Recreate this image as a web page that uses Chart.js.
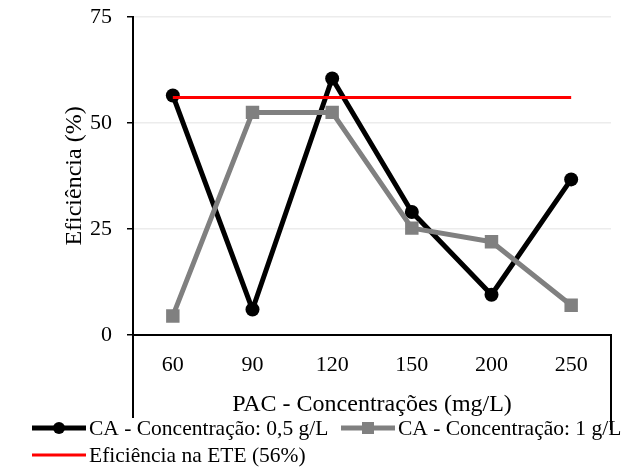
<!DOCTYPE html>
<html>
<head>
<meta charset="utf-8">
<script src="https://cdn.jsdelivr.net/npm/chart.js@4.4.1/dist/chart.umd.min.js"></script>
<style>
  html, body { margin: 0; padding: 0; background: #fff; }
  canvas { display: block; }
</style>
</head>
<body>
<canvas id="chart" width="640" height="467"></canvas>
<script>
const categories = ["60", "90", "120", "150", "200", "250"];
const ca05 = [56.5, 6, 60.5, 29, 9.5, 36.7];
const ca1 = [4.5, 52.5, 52.5, 25.2, 22, 7];
const eteEff = [56, 56, 56, 56, 56, 56];
const yTicks = [0, 25, 50, 75];

const serif = '"Liberation Serif", "Times New Roman", serif';

// Excel-ish extras: axis stubs below plot and the line legend
const extras = {
  id: "extras",
  afterDraw(chart) {
    const ctx = chart.ctx;
    const a = chart.chartArea;
    ctx.save();
    ctx.strokeStyle = "#000";
    ctx.lineWidth = 2;
    ctx.beginPath();
    ctx.moveTo(a.left, a.bottom);
    ctx.lineTo(a.left, 418);
    ctx.moveTo(a.right, a.bottom);
    ctx.lineTo(a.right, 430);
    ctx.stroke();

    const ds = chart.data.datasets;
    const spots = [[32, 428], [341, 428], [32, 455]];
    ds.forEach((d, i) => {
      const [x, y] = spots[i];
      ctx.strokeStyle = d.borderColor;
      ctx.lineWidth = d.legendWidth;
      ctx.beginPath();
      ctx.moveTo(x, y);
      ctx.lineTo(x + 54, y);
      ctx.stroke();
      ctx.fillStyle = d.borderColor;
      if (d.pointStyle === "circle") {
        ctx.beginPath();
        ctx.arc(x + 27, y, 6, 0, Math.PI * 2);
        ctx.fill();
      } else if (d.pointStyle === "rect") {
        ctx.fillRect(x + 27 - 6, y - 6, 12, 12);
      }
      ctx.fillStyle = "#000";
      ctx.font = "21.5px " + serif;
      ctx.textBaseline = "middle";
      ctx.textAlign = "left";
      ctx.fillText(d.label, x + 57, y + 1);
    });
    ctx.restore();
  }
};

new Chart(document.getElementById("chart"), {
  type: "line",
  data: {
    labels: categories,
    datasets: [
      {
        label: "CA - Concentração: 0,5 g/L",
        data: ca05,
        borderColor: "#000000",
        backgroundColor: "#000000",
        borderWidth: 5,
        borderJoinStyle: "round",
        pointStyle: "circle",
        pointRadius: 7,
        pointBorderWidth: 0,
        legendWidth: 5,
        order: 2
      },
      {
        label: "CA - Concentração: 1 g/L",
        data: ca1,
        borderColor: "#808080",
        backgroundColor: "#808080",
        borderWidth: 5,
        borderJoinStyle: "round",
        pointStyle: "rect",
        pointRadius: 9.5,
        pointBorderWidth: 0,
        legendWidth: 5,
        order: 1
      },
      {
        label: "Eficiência na ETE (56%)",
        data: eteEff,
        borderColor: "#ff0000",
        backgroundColor: "#ff0000",
        borderWidth: 3,
        pointRadius: 0,
        legendWidth: 3,
        order: 0
      }
    ]
  },
  options: {
    responsive: false,
    animation: false,
    devicePixelRatio: 1,
    layout: { padding: { top: 17, right: 29, left: 0, bottom: 0 } },
    plugins: {
      legend: { display: false },
      tooltip: { enabled: false }
    },
    scales: {
      x: {
        offset: true,
        grid: { display: true, drawOnChartArea: false, drawTicks: false },
        border: { display: true, color: "#000", width: 2 },
        ticks: { color: "#000", padding: 17, font: { family: serif, size: 22 } },
        title: {
          display: true,
          text: "PAC - Concentrações (mg/L)",
          color: "#000",
          font: { family: serif, size: 24 },
          padding: { top: 0, bottom: 48 }
        },
        afterFit(scale) { scale.height = 132; scale.paddingLeft = 0; scale.paddingRight = 0; }
      },
      y: {
        min: 0,
        max: 75,
        afterBuildTicks(scale) { scale.ticks = yTicks.map(v => ({ value: v })); },
        grid: {
          color: ctx => (ctx.tick && ctx.tick.value === 0 ? "rgba(0,0,0,0)" : "#ececec"),
          tickColor: "#000",
          tickLength: 6,
          lineWidth: 1.5,
          tickWidth: 1.5
        },
        border: { display: true, color: "#000", width: 2 },
        ticks: { color: "#000", padding: 15, font: { family: serif, size: 22 } },
        title: {
          display: true,
          text: "Eficiência (%)",
          color: "#000",
          font: { family: serif, size: 24 },
          padding: { top: 60, bottom: 0 }
        },
        afterFit(scale) { scale.width = 133; scale.paddingTop = 0; scale.paddingBottom = 0; }
      }
    }
  },
  plugins: [extras]
});
</script>
</body>
</html>
